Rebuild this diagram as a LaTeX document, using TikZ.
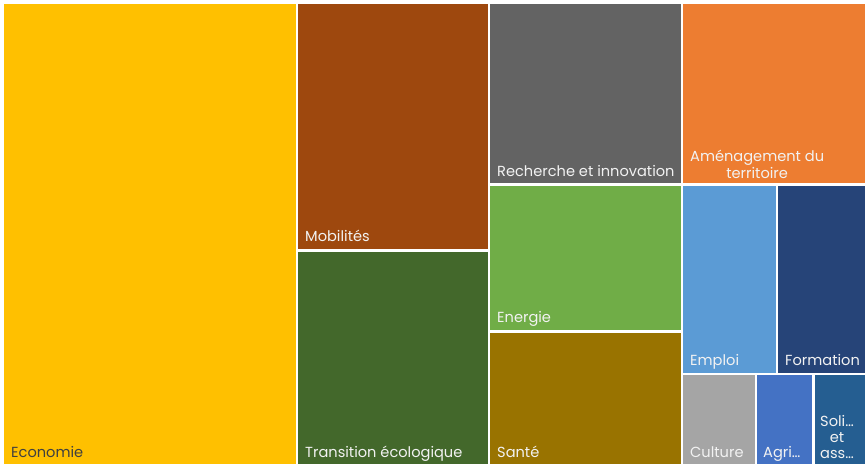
\documentclass[tikz,border=0pt]{standalone}
\usepackage{fontspec}
\setmainfont{Poppins}

\definecolor{cEconomie}{HTML}{FFC000}
\definecolor{cMobilites}{HTML}{9E480E}
\definecolor{cTransition}{HTML}{43682B}
\definecolor{cRecherche}{HTML}{636363}
\definecolor{cEnergie}{HTML}{70AD47}
\definecolor{cSante}{HTML}{997300}
\definecolor{cAmenagement}{HTML}{ED7D31}
\definecolor{cEmploi}{HTML}{5B9BD5}
\definecolor{cFormation}{HTML}{264478}
\definecolor{cCulture}{HTML}{A5A5A5}
\definecolor{cAgri}{HTML}{4472C4}
\definecolor{cSoli}{HTML}{255E91}
\definecolor{cDark}{HTML}{404040}

\begin{document}
\begin{tikzpicture}[x=1pt,y=-1pt]
    \tikzset{
      LabelStyle/.style = { inner sep = 0pt, anchor = base west,
                            text = white!95!black,
                            font = \fontsize{14.6}{17}\selectfont },
      TwoLines/.style = { LabelStyle, align = center } }
      \useasboundingbox[fill=white] (0,0) rectangle (865,468);

      % tiles
      \fill[cEconomie]    (4,4)     rectangle (296,464);
      \fill[cMobilites]   (298,4)   rectangle (488,249);
      \fill[cTransition]  (298,252) rectangle (488,464);
      \fill[cRecherche]   (490,4)   rectangle (681,183);
      \fill[cEnergie]     (490,186) rectangle (681,330);
      \fill[cSante]       (490,333) rectangle (681,464);
      \fill[cAmenagement] (683,4)   rectangle (865,183);
      \fill[cEmploi]      (683,186) rectangle (776,373);
      \fill[cFormation]   (778,186) rectangle (865,373);
      \fill[cCulture]     (683,375) rectangle (755,464);
      \fill[cAgri]        (757,375) rectangle (812,464);
      \fill[cSoli]        (815,375) rectangle (865,464);

      % labels
      \node[LabelStyle, text = cDark] (economie) at (11,457) {Economie};
      \node[LabelStyle] (mobilites)  at (305,241) {Mobilités};
      \node[LabelStyle] (transition) at (305,457) {Transition écologique};
      \node[LabelStyle] (recherche)  at (497,176) {Recherche et innovation};
      \node[LabelStyle] (energie)    at (497,322) {Energie};
      \node[LabelStyle] (sante)      at (497,457) {Santé};
      \node[TwoLines, anchor = south west] (amenagement) at (690,179)
           {Aménagement du\\territoire};
      \node[LabelStyle] (emploi)     at (690,365) {Emploi};
      \node[LabelStyle] (formation)  at (785,365) {Formation};
      \node[LabelStyle] (culture)    at (690,457) {Culture};
      \node[LabelStyle] (agri)       at (763,457) {Agri…};
      \node[TwoLines, anchor = south west,
            font = \fontsize{14.6}{16}\selectfont] (soli) at (820,459)
           {Soli…\\et\\ass…};
    \end{tikzpicture}
\end{document}
